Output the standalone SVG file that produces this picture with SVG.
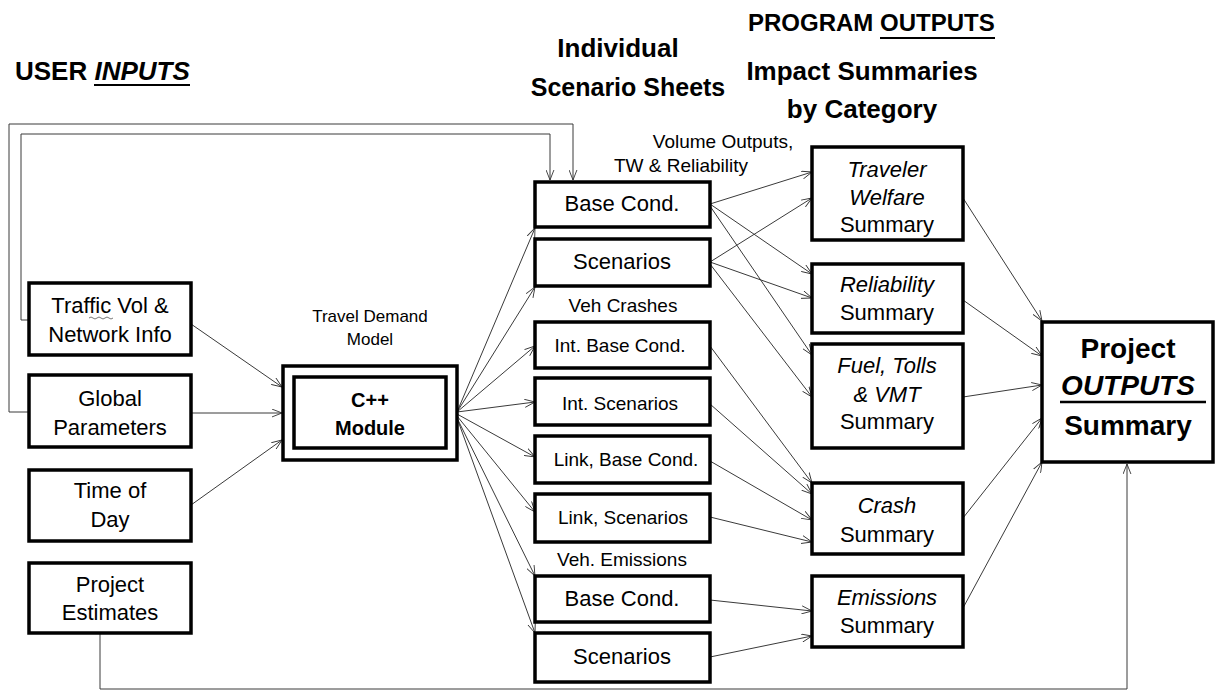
<svg xmlns="http://www.w3.org/2000/svg" width="1217" height="691" viewBox="0 0 1217 691">
<defs>
<marker id="ah" viewBox="0 0 12 10" refX="11.5" refY="5" markerWidth="11" markerHeight="9" markerUnits="userSpaceOnUse" orient="auto">
<path d="M0,0.5 L11.5,5 L0,9.5" fill="none" stroke="#333" stroke-width="1"/>
</marker>
<style>
.bx{fill:#fff;stroke:#000;stroke-width:3.5}
.t{font-family:"Liberation Sans",Arial,sans-serif;fill:#000;text-anchor:middle}
.h{font-family:"Liberation Sans",Arial,sans-serif;font-weight:bold;fill:#000}
.c{fill:none;stroke:#3a3a3a;stroke-width:1}
.a{marker-end:url(#ah)}
.f22{font-size:22px}
.f19{font-size:19px}
.i{font-style:italic}
</style>
</defs>
<rect width="1217" height="691" fill="#fff"/>

<g id="headings">
<text class="h" x="15" y="80" font-size="26">USER <tspan font-style="italic">INPUTS</tspan></text>
<line x1="94" y1="85" x2="190" y2="85" stroke="#000" stroke-width="2"/>
<text class="h" x="618" y="57" font-size="26" text-anchor="middle">Individual</text>
<text class="h" x="628" y="96" font-size="25" text-anchor="middle">Scenario Sheets</text>
<text class="h" x="748" y="31" font-size="24">PROGRAM OUTPUTS</text>
<line x1="880" y1="38" x2="995" y2="38" stroke="#000" stroke-width="2"/>
<text class="h" x="862" y="80" font-size="26" text-anchor="middle">Impact Summaries</text>
<text class="h" x="862" y="118" font-size="26" text-anchor="middle">by Category</text>
<text class="t f19" x="723" y="148">Volume Outputs,</text>
<text class="t f19" x="681" y="172">TW &amp; Reliability</text>
<text class="t f19" x="623" y="312">Veh Crashes</text>
<text class="t f19" x="622" y="566">Veh. Emissions</text>
<text class="t" x="370" y="322" font-size="17">Travel Demand</text>
<text class="t" x="370" y="345" font-size="17">Model</text>
</g>

<g id="connectors">
<path class="c a" d="M29,412 H9 V124 H573 V180"/>
<path class="c a" d="M29,320 H21 V134 H550 V180"/>
<path class="c a" d="M191,324 L282,387"/>
<path class="c a" d="M191,413 L282,413"/>
<path class="c a" d="M191,505 L282,440"/>
<path class="c a" d="M100,634 V689 H1127 V464"/>
<path class="c a" d="M457,412 L535,228"/>
<path class="c a" d="M457,412 L535,287"/>
<path class="c a" d="M457,412 L535,346"/>
<path class="c a" d="M457,412 L535,402"/>
<path class="c a" d="M457,414 L535,457"/>
<path class="c a" d="M457,416 L535,512"/>
<path class="c a" d="M457,418 L535,576"/>
<path class="c a" d="M457,418 L535,633"/>
<path class="c a" d="M710,204 L812,172"/>
<path class="c a" d="M710,204 L812,274"/>
<path class="c a" d="M710,206 L812,355"/>
<path class="c a" d="M710,262 L812,198"/>
<path class="c a" d="M710,262 L812,298"/>
<path class="c a" d="M710,264 L812,397"/>
<path class="c a" d="M710,346 L812,483"/>
<path class="c a" d="M710,404 L812,494"/>
<path class="c a" d="M710,461 L812,520"/>
<path class="c a" d="M710,517 L812,542"/>
<path class="c a" d="M710,600 L812,611"/>
<path class="c a" d="M710,657 L812,636"/>
<path class="c a" d="M963,198 L1042,321"/>
<path class="c a" d="M963,300 L1042,356"/>
<path class="c a" d="M963,397 L1042,385"/>
<path class="c a" d="M963,518 L1042,418"/>
<path class="c a" d="M963,608 L1042,462"/>
</g>

<g id="traffic">
<rect class="bx" x="29" y="283" width="162" height="72"/>
<text class="t f22" x="110" y="313">Traffic Vol &amp;</text>
<text class="t f22" x="110" y="342">Network  Info</text>
<path d="M89,318 q2,-2 4,0 t4,0 t4,0 t4,0 t4,0 t4,0" fill="none" stroke="#555" stroke-width="0.8"/>
</g>
<g id="global">
<rect class="bx" x="29" y="375" width="162" height="72"/>
<text class="t f22" x="110" y="406">Global</text>
<text class="t f22" x="110" y="435">Parameters</text>
</g>
<g id="timeofday">
<rect class="bx" x="29" y="470" width="162" height="71"/>
<text class="t f22" x="110" y="498">Time of</text>
<text class="t f22" x="110" y="527">Day</text>
</g>
<g id="estimates">
<rect class="bx" x="29" y="563" width="162" height="70"/>
<text class="t f22" x="110" y="592">Project</text>
<text class="t f22" x="110" y="620">Estimates</text>
</g>

<g id="cpp">
<rect class="bx" x="283" y="366" width="174" height="94" stroke-width="4"/>
<rect class="bx" x="294" y="377" width="152" height="71" stroke-width="4"/>
<text class="t" x="370" y="407" font-size="20" font-weight="bold">C++</text>
<text class="t" x="370" y="435" font-size="20" font-weight="bold">Module</text>
</g>

<g id="vol-base">
<rect class="bx" x="535" y="182" width="175" height="45"/>
<text class="t f22" x="622" y="211">Base Cond.</text>
</g>
<g id="vol-scen">
<rect class="bx" x="535" y="239" width="175" height="47"/>
<text class="t f22" x="622" y="269">Scenarios</text>
</g>
<g id="int-base">
<rect class="bx" x="535" y="322" width="175" height="46"/>
<text class="t f19" x="620" y="352">Int. Base Cond.</text>
</g>
<g id="int-scen">
<rect class="bx" x="535" y="378" width="175" height="47"/>
<text class="t f19" x="620" y="410">Int. Scenarios</text>
</g>
<g id="link-base">
<rect class="bx" x="535" y="436" width="175" height="47"/>
<text class="t f19" x="626" y="466">Link, Base Cond.</text>
</g>
<g id="link-scen">
<rect class="bx" x="535" y="494" width="175" height="48"/>
<text class="t f19" x="623" y="524">Link, Scenarios</text>
</g>
<g id="em-base">
<rect class="bx" x="535" y="576" width="175" height="46"/>
<text class="t f22" x="622" y="606">Base Cond.</text>
</g>
<g id="em-scen">
<rect class="bx" x="535" y="633" width="175" height="49"/>
<text class="t f22" x="622" y="664">Scenarios</text>
</g>

<g id="traveler">
<rect class="bx" x="812" y="147" width="151" height="93"/>
<text class="t f22 i" x="887" y="177">Traveler</text>
<text class="t f22 i" x="887" y="205">Welfare</text>
<text class="t f22" x="887" y="232">Summary</text>
</g>
<g id="reliability">
<rect class="bx" x="812" y="264" width="151" height="69"/>
<text class="t f22 i" x="887" y="292">Reliability</text>
<text class="t f22" x="887" y="320">Summary</text>
</g>
<g id="fuel">
<rect class="bx" x="812" y="344" width="151" height="104"/>
<text class="t f22 i" x="887" y="373">Fuel,  Tolls</text>
<text class="t f22 i" x="887" y="402">&amp; VMT</text>
<text class="t f22" x="887" y="429">Summary</text>
</g>
<g id="crash">
<rect class="bx" x="812" y="483" width="151" height="71"/>
<text class="t f22 i" x="887" y="513">Crash</text>
<text class="t f22" x="887" y="542">Summary</text>
</g>
<g id="emissions">
<rect class="bx" x="812" y="576" width="151" height="71"/>
<text class="t f22 i" x="887" y="605">Emissions</text>
<text class="t f22" x="887" y="633">Summary</text>
</g>

<g id="project-outputs">
<rect class="bx" x="1042" y="322" width="171" height="140" stroke-width="4.5"/>
<text class="t" x="1128" y="358" font-size="28" font-weight="bold">Project</text>
<text class="t" x="1128" y="395" font-size="28" font-weight="bold" font-style="italic">OUTPUTS</text>
<line x1="1060" y1="402" x2="1206" y2="402" stroke="#000" stroke-width="2.5"/>
<text class="t" x="1128" y="435" font-size="28" font-weight="bold">Summary</text>
</g>
</svg>
